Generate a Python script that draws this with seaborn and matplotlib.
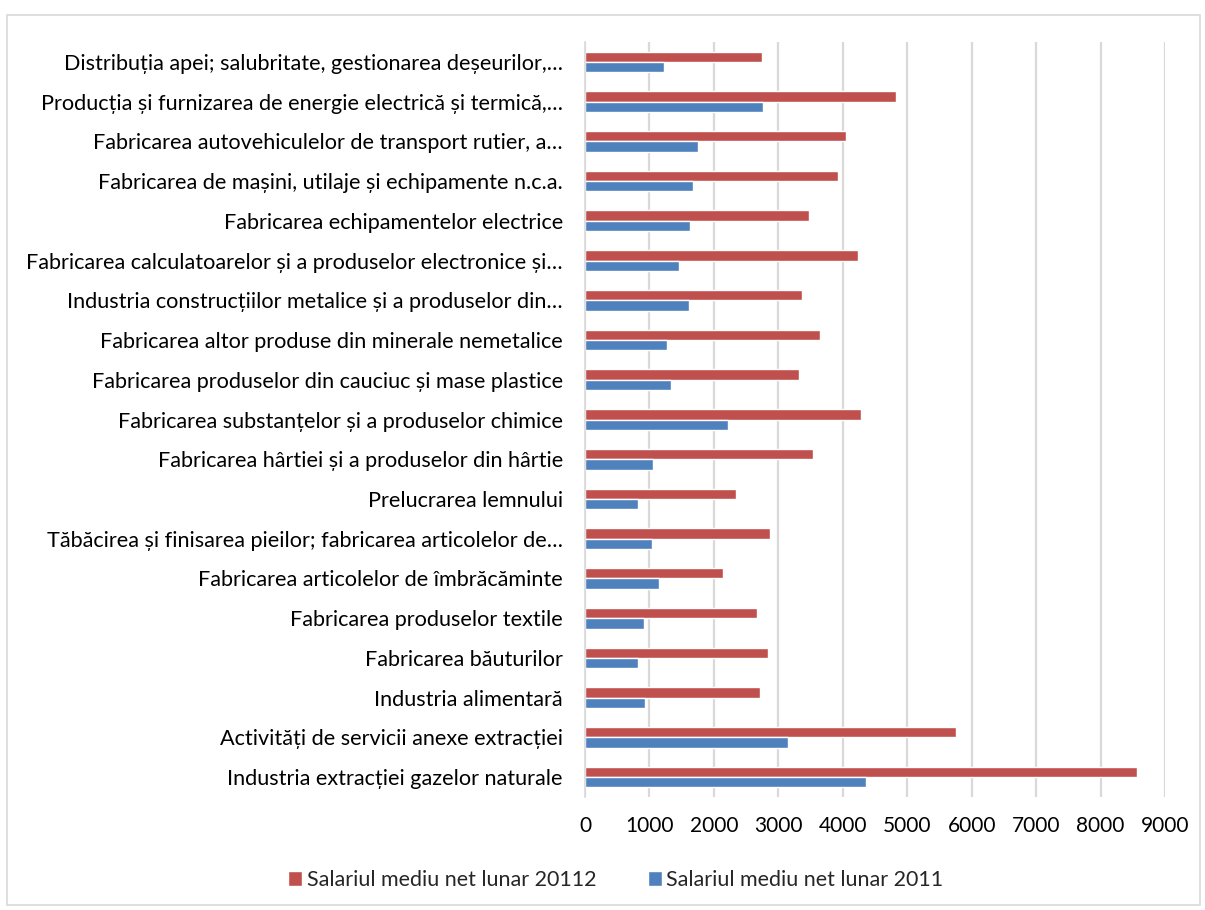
import numpy as np
import pandas as pd
import seaborn as sns
import matplotlib.pyplot as plt
from matplotlib.patches import Rectangle

categories = [
    "Distribuția apei; salubritate, gestionarea deșeurilor,…",
    "Producția și furnizarea de energie electrică și termică,…",
    "Fabricarea autovehiculelor de transport rutier, a…",
    "Fabricarea de mașini, utilaje și echipamente n.c.a.",
    "Fabricarea echipamentelor electrice",
    "Fabricarea calculatoarelor și a produselor electronice și…",
    "Industria construcțiilor metalice și a produselor din…",
    "Fabricarea altor produse din minerale nemetalice",
    "Fabricarea produselor din cauciuc și mase plastice",
    "Fabricarea substanțelor și a produselor chimice",
    "Fabricarea hârtiei și a produselor din hârtie",
    "Prelucrarea lemnului",
    "Tăbăcirea și finisarea pieilor; fabricarea articolelor de…",
    "Fabricarea articolelor de îmbrăcăminte",
    "Fabricarea produselor textile",
    "Fabricarea băuturilor",
    "Industria alimentară",
    "Activități de servicii anexe extracției",
    "Industria extracției gazelor naturale",
]
salary_2012 = [2746, 4819, 4052, 3933, 3477, 4238, 3363, 3648, 3321, 4290,
               3539, 2347, 2865, 2146, 2663, 2841, 2718, 5756, 8561]
salary_2011 = [1228, 2756, 1751, 1679, 1637, 1451, 1617, 1275, 1337, 2212,
               1057, 824, 1041, 1150, 916, 830, 929, 3155, 4360]
series_names = ["Salariul mediu net lunar 20112", "Salariul mediu net lunar 2011"]
x_ticks = list(range(0, 10000, 1000))

df = pd.DataFrame({
    "cat": categories * 2,
    "val": salary_2012 + salary_2011,
    "serie": [series_names[0]] * len(categories) + [series_names[1]] * len(categories),
})

sns.set_style("white")
plt.rcParams["font.family"] = ["Lato", "DejaVu Sans"]

fig = plt.figure(figsize=(12.05, 9.10), dpi=100)
ax = fig.add_axes([585 / 1205, 1 - 797 / 910, 580 / 1205, 755 / 910])

palette = {series_names[0]: "#C0504D", series_names[1]: "#4F81BD"}
sns.barplot(data=df, y="cat", x="val", hue="serie", hue_order=series_names,
            order=categories, palette=palette, width=0.52, orient="h",
            saturation=1, ax=ax, legend=True)

ax.set_xlim(0, 9000)
ax.set_xticks(x_ticks)
ax.set_xticklabels([str(t) for t in x_ticks])
ax.set_xlabel("")
ax.set_ylabel("")
ax.grid(axis="x", color="#D9D9D9", linewidth=1.6)
ax.set_axisbelow(True)
for s in ["top", "right", "bottom"]:
    ax.spines[s].set_visible(False)
ax.spines["left"].set_color("#D9D9D9")
ax.spines["left"].set_linewidth(1.2)
ax.tick_params(axis="y", length=0, pad=16, labelsize=15.6, labelcolor="#000000")
ax.tick_params(axis="x", length=0, pad=14, labelsize=15, labelcolor="#000000")

handles, labels = ax.get_legend_handles_labels()
ax.get_legend().remove()
fig.legend(handles, labels, loc="center", bbox_to_anchor=(0.511, 0.033), ncol=2,
           frameon=False, fontsize=15.5, handlelength=0.65, handleheight=0.65,
           handletextpad=0.2, columnspacing=2.4)

fig.patches.append(Rectangle((7 / 1205, 5 / 910), 1193 / 1205, 890 / 910,
                             transform=fig.transFigure, fill=False,
                             edgecolor="#D9D9D9", linewidth=1.2))

fig.savefig("out.png", dpi=100)
